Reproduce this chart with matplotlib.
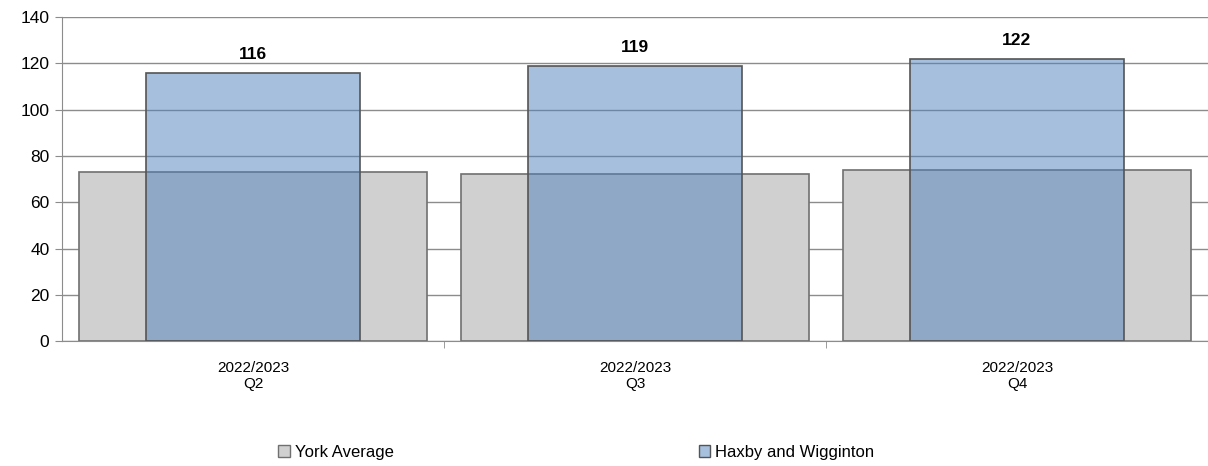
import numpy as np
import matplotlib.pyplot as plt
from matplotlib.patches import Patch

plt.rcParams['font.family'] = ['Liberation Sans', 'DejaVu Sans']

quarters = ['2022/2023\nQ2', '2022/2023\nQ3', '2022/2023\nQ4']
york_avg = [73.0, 72.0, 73.8]
haxby = [116, 119, 122]

fig = plt.figure(figsize=(12.08, 4.66), dpi=100)
ax = fig.add_axes([0.0513, 0.268, 0.9487, 0.6955])

x = np.arange(len(quarters))
ax.bar(x, york_avg, width=0.91, color='#D0D0D0', edgecolor='#707070', linewidth=1.2, zorder=2)
ax.bar(x, haxby, width=0.56, color=(0.31, 0.506, 0.741, 0.5), edgecolor='#555555', linewidth=1.2, zorder=3)

for xi, v in zip(x, haxby):
    ax.text(xi, v + 4.5, str(v), ha='center', va='bottom', fontsize=12.5, fontweight='bold', zorder=4)

ax.set_xlim(-0.5, 2.5)
ax.set_ylim(0, 140)
ax.set_yticks(range(0, 141, 20))
ax.yaxis.grid(True, color='#8C8C8C', linewidth=1.0, zorder=1)
ax.set_axisbelow(True)
for s in ['top', 'right']:
    ax.spines[s].set_visible(False)
ax.spines['left'].set_color('#8C8C8C')
ax.spines['bottom'].set_color('#8C8C8C')
ax.tick_params(axis='y', labelsize=12.5, color='#8C8C8C', length=5, pad=4)

ax.set_xticks(x)
ax.set_xticklabels(quarters, fontsize=11)
ax.tick_params(axis='x', length=0, pad=14)
ax.set_xticks([0.5, 1.5, 2.5], minor=True)
ax.tick_params(axis='x', which='minor', length=5, color='#8C8C8C')

handles = [Patch(facecolor='#D0D0D0', edgecolor='#707070', label='York Average'),
           Patch(facecolor='#A7C0DE', edgecolor='#555555', label='Haxby and Wigginton')]
fig.legend(handles=handles, loc='center', bbox_to_anchor=(0.477, 0.03), ncol=2, frameon=False,
           fontsize=12, handlelength=0.7, handleheight=0.7, handletextpad=0.3, columnspacing=18.3)

plt.savefig('out.png', dpi=100)
